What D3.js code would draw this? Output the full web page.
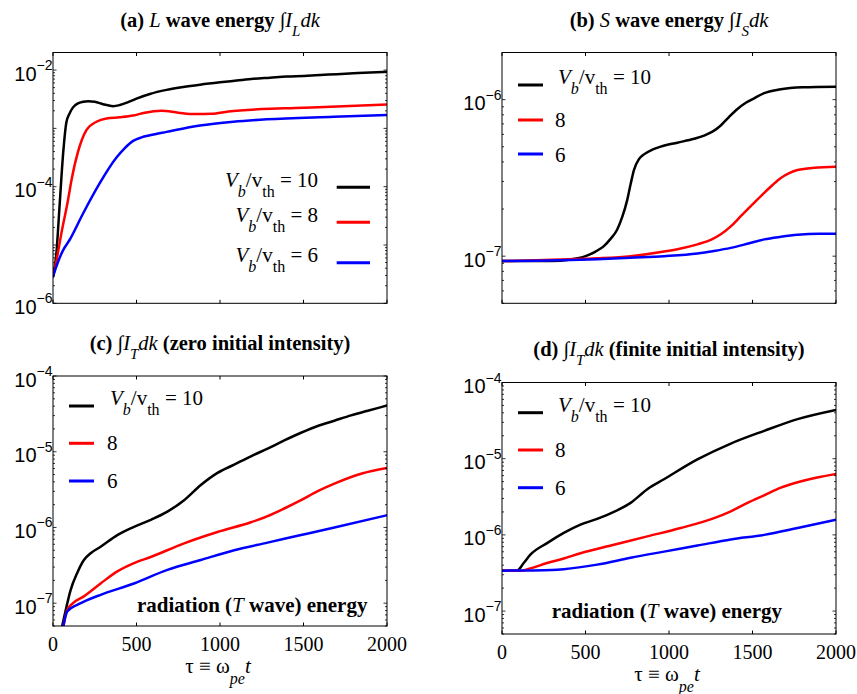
<!DOCTYPE html>
<html><head><meta charset="utf-8">
<script src="https://cdn.jsdelivr.net/npm/d3@7"></script>
<style>body{margin:0;background:#fff} svg{display:block}</style>
</head><body>
<svg id="chart" width="857" height="694"></svg>
<script>
// ---------- data ----------
const tauTicks = [0, 500, 1000, 1500, 2000];
const seriesNames = ["10", "8", "6"];
const seriesColors = ["#000000", "#ff0000", "#0000ff"];

// (a) L wave energy
const aTau10 = [0,20,40,60,80,100,120,150,180,210,250,300,360,400,450,500,580,680,780,880,1000,1100,1200,1300,1400,1500,1600,1700,1800,1900,2000];
const aL10   = [2.86e-6,7.1e-6,5.0e-5,3.5e-4,1.26e-3,1.82e-3,2.29e-3,2.69e-3,2.85e-3,2.92e-3,2.85e-3,2.60e-3,2.40e-3,2.51e-3,2.82e-3,3.24e-3,3.89e-3,4.57e-3,5.13e-3,5.62e-3,6.17e-3,6.61e-3,7.08e-3,7.41e-3,7.76e-3,7.94e-3,8.22e-3,8.51e-3,8.81e-3,9.12e-3,9.33e-3];
const aTau8  = [0,20,50,90,110,150,200,260,320,400,480,550,650,750,850,950,1050,1250,1450,1700,2000];
const aL8    = [2.86e-6,5.25e-6,1.58e-5,5.9e-5,1.26e-4,3.98e-4,9.3e-4,1.30e-3,1.48e-3,1.55e-3,1.66e-3,1.86e-3,2.0e-3,1.86e-3,1.76e-3,1.78e-3,1.95e-3,2.14e-3,2.24e-3,2.37e-3,2.57e-3];
const aTau6  = [0,20,60,100,180,280,380,430,480,530,580,680,880,1080,1280,1680,2000];
const aL6    = [2.86e-6,4.27e-6,8.1e-6,1.23e-5,3.47e-5,1.15e-4,3.16e-4,4.6e-4,6.1e-4,7.0e-4,7.6e-4,8.7e-4,1.12e-3,1.30e-3,1.43e-3,1.58e-3,1.70e-3];

// (b) S wave energy
const bTau10 = [0,300,400,500,560,610,650,690,720,750,770,790,820,850,900,950,1050,1150,1210,1260,1310,1360,1410,1460,1510,1570,1660,1800,2000];
const bS10   = [9.3e-8,9.33e-8,9.5e-8,1.0e-7,1.07e-7,1.16e-7,1.29e-7,1.48e-7,1.78e-7,2.29e-7,2.88e-7,3.55e-7,4.17e-7,4.47e-7,4.79e-7,5.01e-7,5.31e-7,5.62e-7,5.89e-7,6.24e-7,6.84e-7,7.76e-7,8.71e-7,9.55e-7,1.02e-6,1.10e-6,1.16e-6,1.20e-6,1.21e-6];
const bTau8  = [0,400,570,770,970,1070,1170,1250,1310,1370,1430,1500,1570,1620,1670,1720,1770,1870,2000];
const bS8    = [9.3e-8,9.55e-8,9.7e-8,1.0e-7,1.07e-7,1.12e-7,1.19e-7,1.27e-7,1.38e-7,1.55e-7,1.80e-7,2.14e-7,2.54e-7,2.85e-7,3.16e-7,3.39e-7,3.55e-7,3.67e-7,3.72e-7];
const bTau6  = [0,570,770,970,1170,1270,1370,1470,1570,1670,1770,1900,2000];
const bS6    = [9.3e-8,9.55e-8,9.77e-8,1.0e-7,1.04e-7,1.08e-7,1.13e-7,1.20e-7,1.28e-7,1.33e-7,1.37e-7,1.39e-7,1.39e-7];

// (c) T wave, zero initial intensity
const cTau10 = [40,75,105,145,185,225,285,385,485,585,685,785,885,985,1085,1185,1285,1385,1485,1585,1685,1785,1885,2000];
const cT10   = [3.5e-8,7.9e-8,1.48e-7,2.51e-7,3.72e-7,4.57e-7,5.56e-7,7.94e-7,1.02e-6,1.26e-6,1.62e-6,2.29e-6,3.63e-6,5.25e-6,6.76e-6,8.71e-6,1.10e-5,1.41e-5,1.78e-5,2.19e-5,2.57e-5,3.02e-5,3.47e-5,4.07e-5];
const cTau8  = [50,85,120,185,285,385,485,585,785,985,1185,1285,1385,1485,1585,1685,1845,2000];
const cT8    = [3.5e-8,8.1e-8,1.0e-7,1.23e-7,1.82e-7,2.63e-7,3.39e-7,4.07e-7,6.17e-7,8.71e-7,1.17e-6,1.41e-6,1.78e-6,2.29e-6,3.02e-6,3.80e-6,5.13e-6,6.10e-6];
const cTau6  = [50,85,145,185,285,485,685,885,1085,1285,1485,1685,2000];
const cT6    = [3.5e-8,7.76e-8,9.5e-8,1.05e-7,1.29e-7,1.82e-7,2.75e-7,3.72e-7,5.01e-7,6.31e-7,7.94e-7,1.0e-6,1.45e-6];

// (d) T wave, finite initial intensity
const dTau10 = [0,90,130,170,270,370,470,570,670,770,870,970,1170,1370,1570,1770,2000];
const dT10   = [3.39e-7,3.39e-7,4.27e-7,5.5e-7,7.8e-7,1.06e-6,1.36e-6,1.62e-6,2.0e-6,2.63e-6,3.98e-6,5.37e-6,9.77e-6,1.58e-5,2.32e-5,3.31e-5,4.37e-5];
const dTau8  = [0,120,170,270,370,470,670,870,1070,1270,1370,1470,1570,1670,1770,1880,2000];
const dT8    = [3.39e-7,3.39e-7,3.63e-7,4.27e-7,4.90e-7,5.75e-7,7.41e-7,9.55e-7,1.23e-6,1.66e-6,2.04e-6,2.63e-6,3.31e-6,4.17e-6,4.90e-6,5.62e-6,6.31e-6];
const dTau6  = [0,300,370,570,770,970,1170,1370,1570,1770,2000];
const dT6    = [3.39e-7,3.47e-7,3.55e-7,4.07e-7,5.01e-7,6.03e-7,7.24e-7,8.71e-7,1.0e-6,1.23e-6,1.58e-6];

// y tick label exponents
const aYLabels = [-6, -4, -2];
const bYLabels = [-7, -6];
const cYLabels = [-7, -6, -5, -4];
const dYLabels = [-7, -6, -5, -4];

// ---------- layout ----------
const SERIF = "Liberation Serif";
const SANS = "Liberation Sans";
const svg = d3.select("#chart");

const panels = [
  {id:"a", x0:53, x1:387, y0:52.5, y1:303.3, ydom:[1e-6,2e-2], ylab:aYLabels,
   data:[[aTau10,aL10],[aTau8,aL8],[aTau6,aL6]], xlabels:false},
  {id:"b", x0:502, x1:836, y0:52.5, y1:303.3, ydom:[5e-8,2e-6], ylab:bYLabels,
   data:[[bTau10,bS10],[bTau8,bS8],[bTau6,bS6]], xlabels:false},
  {id:"c", x0:53, x1:387, y0:376, y1:626, ydom:[5e-8,1e-4], ylab:cYLabels,
   data:[[cTau10,cT10],[cTau8,cT8],[cTau6,cT6]], xlabels:true},
  {id:"d", x0:502, x1:836, y0:382.5, y1:634, ydom:[5e-8,1e-4], ylab:dYLabels,
   data:[[dTau10,dT10],[dTau8,dT8],[dTau6,dT6]], xlabels:true}
];

function drawPanel(p) {
  const g = svg.append("g");
  const x = d3.scaleLinear().domain([0, 2000]).range([p.x0, p.x1]);
  const y = d3.scaleLog().domain(p.ydom).range([p.y1, p.y0]);

  g.append("clipPath").attr("id", "clip" + p.id).append("rect")
    .attr("x", p.x0).attr("y", p.y0).attr("width", p.x1 - p.x0).attr("height", p.y1 - p.y0);

  const line = d3.line().x(d => x(d[0])).y(d => y(d[1])).curve(d3.curveMonotoneX);
  p.data.forEach((s, i) => {
    const pts = s[0].map((t, k) => [t, s[1][k]]);
    g.append("path").attr("clip-path", `url(#clip${p.id})`)
      .attr("d", line(pts)).attr("fill", "none")
      .attr("stroke", seriesColors[i]).attr("stroke-width", 2.5)
      .attr("stroke-linejoin", "round").attr("stroke-linecap", "round");
  });

  g.append("rect").attr("x", p.x0).attr("y", p.y0)
    .attr("width", p.x1 - p.x0).attr("height", p.y1 - p.y0)
    .attr("fill", "none").attr("stroke", "#000").attr("stroke-width", 1);

  tauTicks.forEach(t => {
    const xx = x(t);
    g.append("line").attr("x1", xx).attr("x2", xx).attr("y1", p.y1).attr("y2", p.y1 - 3.5).attr("stroke", "#000");
    g.append("line").attr("x1", xx).attr("x2", xx).attr("y1", p.y0).attr("y2", p.y0 + 3.5).attr("stroke", "#000");
  });

  const e0 = Math.floor(Math.log10(p.ydom[0])), e1 = Math.ceil(Math.log10(p.ydom[1]));
  for (let e = e0; e <= e1; e++) {
    for (let m = 1; m <= 9; m++) {
      const v = m * Math.pow(10, e);
      if (v < p.ydom[0] * 0.999 || v > p.ydom[1] * 1.001) continue;
      const yy = y(v);
      const len = m === 1 ? 3.5 : 2;
      g.append("line").attr("x1", p.x0).attr("x2", p.x0 + len).attr("y1", yy).attr("y2", yy).attr("stroke", "#000").attr("stroke-width", 0.8);
      g.append("line").attr("x1", p.x1).attr("x2", p.x1 - len).attr("y1", yy).attr("y2", yy).attr("stroke", "#000").attr("stroke-width", 0.8);
    }
  }

  p.ylab.forEach(e => {
    const yy = y(Math.pow(10, e));
    const t = g.append("text").attr("font-family", SANS).attr("x", p.x0 - 0.5).attr("y", yy + 10.5)
      .attr("text-anchor", "end").attr("font-size", 20);
    t.append("tspan").text("10");
    t.append("tspan").attr("dy", -10.5).attr("font-size", 14).text("\u2212" + Math.abs(e));
  });

  if (p.xlabels) {
    tauTicks.forEach(tk => {
      g.append("text").attr("font-family", SERIF).attr("x", x(tk)).attr("y", p.y1 + 24.5).attr("text-anchor", "middle")
        .attr("font-size", 20).text(tk);
    });
    const t = g.append("text").attr("font-family", SERIF).attr("x", (p.x0 + p.x1) / 2 - 2).attr("y", p.y1 + 46.5)
      .attr("text-anchor", "middle").attr("font-size", 21);
    t.append("tspan").text("\u03c4 \u2261 \u03c9");
    t.append("tspan").attr("dy", 11).attr("font-style", "italic").attr("font-size", 16).text("pe");
    t.append("tspan").attr("dy", -11).attr("font-style", "italic").text("t");
  }
}
panels.forEach(drawPanel);

// ---------- titles ----------
function title(p, yBase, parts) {
  const t = svg.append("text").attr("font-family", SERIF).attr("x", (p.x0 + p.x1) / 2).attr("y", yBase)
    .attr("text-anchor", "middle").attr("font-size", 20.5);
  parts.forEach(([txt, style, dy]) => {
    const s = t.append("tspan").text(txt);
    if (style.includes("b")) s.attr("font-weight", "bold");
    if (style.includes("i")) s.attr("font-style", "italic");
    if (style.includes("s")) s.attr("font-size", 15);
    if (dy) s.attr("dy", dy);
  });
}
title(panels[0], 26.7, [["(a) ", "b"], ["L", "i"], [" wave energy ", "b"], ["\u222b", ""], ["I", "i"], ["L", "is", 9], ["dk", "i", -9]]);
title(panels[1], 26.7, [["(b) ", "b"], ["S", "i"], [" wave energy ", "b"], ["\u222b", ""], ["I", "i"], ["S", "is", 9], ["dk", "i", -9]]);
title(panels[2], 350, [["(c) ", "b"], ["\u222b", ""], ["I", "i"], ["T", "is", 9], ["dk", "i", -9], [" (zero initial intensity)", "b"]]);
title(panels[3], 356, [["(d) ", "b"], ["\u222b", ""], ["I", "i"], ["T", "is", 9], ["dk", "i", -9], [" (finite initial intensity)", "b"]]);

function radiation(xs, ys) {
  const t = svg.append("text").attr("font-family", SERIF).attr("x", xs).attr("y", ys)
    .attr("font-size", 21).attr("font-weight", "bold");
  t.append("tspan").text("radiation (");
  t.append("tspan").attr("font-style", "italic").attr("font-weight", "normal").text("T");
  t.append("tspan").text(" wave) energy");
}
radiation(137, 611.7);
radiation(551.7, 618);

// ---------- legends ----------
function vbLabel(t, num) {
  t.append("tspan").attr("font-style", "italic").text("V");
  t.append("tspan").attr("dy", 10).attr("font-style", "italic").attr("font-size", 16).text("b");
  t.append("tspan").attr("dy", -10).text("/v");
  t.append("tspan").attr("dy", 10).attr("font-size", 16).text("th");
  t.append("tspan").attr("dy", -10).text(" = " + num);
}
function legendLine(x1, x2, yy, col) {
  svg.append("line").attr("x1", x1).attr("x2", x2).attr("y1", yy).attr("y2", yy)
    .attr("stroke", col).attr("stroke-width", 3);
}
const aRows = [[186.7, 187.3], [221.7, 222.3], [261.7, 262.7]];
seriesNames.forEach((n, i) => {
  const t = svg.append("text").attr("font-family", SERIF).attr("x", 318).attr("y", aRows[i][0]).attr("text-anchor", "end")
    .attr("font-size", 21);
  vbLabel(t, n);
  legendLine(336.7, 370, aRows[i][1], seriesColors[i]);
});
function shortLegend(lx1, lx2, lineYs, textX, textYs) {
  seriesNames.forEach((n, i) => {
    legendLine(lx1, lx2, lineYs[i], seriesColors[i]);
    const t = svg.append("text").attr("font-family", SERIF).attr("x", i === 0 ? textX : textX - 3).attr("y", textYs[i])
      .attr("font-size", 21);
    if (i === 0) vbLabel(t, n); else t.text(n);
  });
}
shortLegend(518, 543, [85, 120, 154], 558, [84, 127, 162]);
shortLegend(69, 94, [406, 443.3, 481], 110, [405, 450, 488]);
shortLegend(518, 543, [412.7, 450, 487.7], 558, [411.7, 457, 495]);
</script>
</body></html>
